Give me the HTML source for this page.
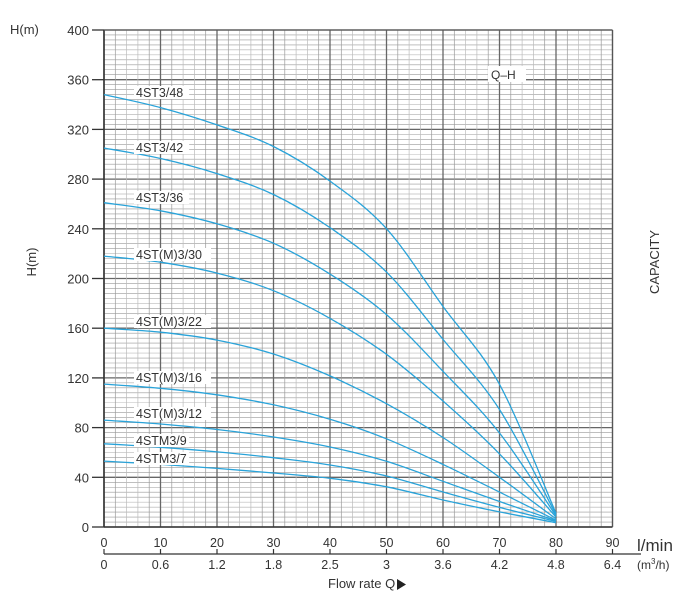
<!DOCTYPE html>
<html><head><meta charset="utf-8"><style>
html,body{margin:0;padding:0;background:#fff;}
svg{display:block;font-family:"Liberation Sans",Arial,sans-serif;}
</style></head><body>
<svg id="s" width="691" height="602" viewBox="0 0 691 602" xmlns="http://www.w3.org/2000/svg">
<rect width="691" height="602" fill="#fff"/>
<g id="grid"></g>
<g id="curves" fill="none" stroke="#29a3d9" stroke-width="1.3"></g>
<g id="labels" font-size="12.5" fill="#333"></g>
<text x="10" y="34" font-size="13" fill="#333">H(m)</text>
<text transform="translate(36,262) rotate(-90)" font-size="13" fill="#333" text-anchor="middle">H(m)</text>
<text transform="translate(659,262) rotate(-90)" font-size="13" fill="#333" text-anchor="middle">CAPACITY</text>
<text x="637" y="551" font-size="17" fill="#333">l/min</text>
<text x="637" y="569" font-size="12" fill="#333">(m<tspan font-size="8" dy="-5">3</tspan><tspan dy="5">/h)</tspan></text>
<text x="328" y="588" font-size="13" fill="#333">Flow rate Q</text>
<polygon points="397,579 406,584.5 397,590" fill="#222"/>
<rect x="488" y="66" width="38" height="16" fill="#fff"/>
<text x="491" y="79" font-size="12" fill="#333">Q–H</text>
</svg>
<script>
(function(){
var NS="http://www.w3.org/2000/svg";
function el(p,t,a,txt){var e=document.createElementNS(NS,t);for(var k in a)e.setAttribute(k,a[k]);if(txt!=null)e.textContent=txt;document.getElementById(p).appendChild(e);return e;}
var X0=104,XS=5.65,Y0=527,YS=497/400;
function px(q){return X0+q*XS;} function py(h){return Y0-h*YS;}
var R=px(90);
for(var h=0;h<=400;h+=4){var maj=h%40==0;el("grid","line",{x1:X0,x2:R,y1:py(h),y2:py(h),stroke:maj?"#666":(h%20==0?"#bbb":"#999"),"stroke-width":maj?1.3:0.6});}
for(var q=0;q<=90;q+=2){var maj=q%10==0;el("grid","line",{x1:px(q),x2:px(q),y1:py(0),y2:py(400),stroke:maj?"#666":(q%10==6||q%10==4?"#bbb":"#999"),"stroke-width":maj?1.3:0.7});}
el("grid","line",{x1:X0,x2:X0,y1:py(0),y2:py(400),stroke:"#333","stroke-width":1.6});
el("grid","line",{x1:X0,x2:R,y1:py(0),y2:py(0),stroke:"#333","stroke-width":1.6});
el("grid","line",{x1:R,x2:R,y1:py(0),y2:py(400),stroke:"#555","stroke-width":1.2});
el("grid","line",{x1:X0,x2:R,y1:py(400),y2:py(400),stroke:"#555","stroke-width":1.2});
for(var h=0;h<=400;h+=40){el("grid","line",{x1:X0-12,x2:X0,y1:py(h),y2:py(h),stroke:"#333","stroke-width":1.3});
el("grid","text",{x:X0-15,y:py(h)+5,"font-size":13,fill:"#333","text-anchor":"end"},String(h));}
var tl=["0","10","20","30","40","50","60","70","80","90"],bl=["0","0.6","1.2","1.8","2.5","3","3.6","4.2","4.8","6.4"];
el("grid","line",{x1:X0,x2:641,y1:554,y2:554,stroke:"#333","stroke-width":1.3});
for(var i=0;i<10;i++){var x=px(i*10);el("grid","text",{x:x,y:547,"font-size":12.5,fill:"#333","text-anchor":"middle"},tl[i]);
el("grid","line",{x1:x,x2:x,y1:549,y2:554,stroke:"#333","stroke-width":1.2});
el("grid","text",{x:x,y:569,"font-size":12.5,fill:"#333","text-anchor":"middle"},bl[i]);}
var Ptop=[1,.97,.93,.88,.80,.69,.51,.33],Pmid=[1,.98,.94,.87,.76,.62,.45,.25],Pbot=[1,.95,.89,.82,.74,.61,.41,.23];
var C=[[348,11,0],[305,10,.15],[261,9,.3],[218,8,.45],[160,6.5,.6],[115,5.5,.72],[86,5,.82],[67,4.5,.9],[53,3.5,1]];
C.forEach(function(c){var t=c[2],pts=[];
for(var i=0;i<8;i++){var p=t<.6?Ptop[i]+(Pmid[i]-Ptop[i])*t/.6:Pmid[i]+(Pbot[i]-Pmid[i])*(t-.6)/.4;pts.push([px(i*10),py(c[0]*p)]);}
pts.push([px(80),py(c[1])]);
var d="M"+pts[0][0].toFixed(1)+","+pts[0][1].toFixed(1);
for(var i=0;i<pts.length-1;i++){var p0=pts[Math.max(0,i-1)],p1=pts[i],p2=pts[i+1],p3=pts[Math.min(pts.length-1,i+2)];
var c1=[p1[0]+(p2[0]-p0[0])/6,p1[1]+(p2[1]-p0[1])/6],c2=[p2[0]-(p3[0]-p1[0])/6,p2[1]-(p3[1]-p1[1])/6];
d+="C"+c1[0].toFixed(1)+","+c1[1].toFixed(1)+" "+c2[0].toFixed(1)+","+c2[1].toFixed(1)+" "+p2[0].toFixed(1)+","+p2[1].toFixed(1);}
el("curves","path",{d:d});});
var L=[["4ST3/48",97],["4ST3/42",152],["4ST3/36",202],["4ST(M)3/30",259],["4ST(M)3/22",326],["4ST(M)3/16",382],["4ST(M)3/12",418],["4STM3/9",445],["4STM3/7",463]];
L.forEach(function(l){var w=l[0].length*7.3+4;el("labels","rect",{x:134,y:l[1]-11,width:w,height:13,fill:"#fff"});el("labels","text",{x:136,y:l[1]},l[0]);});
})();
</script>
</body></html>
